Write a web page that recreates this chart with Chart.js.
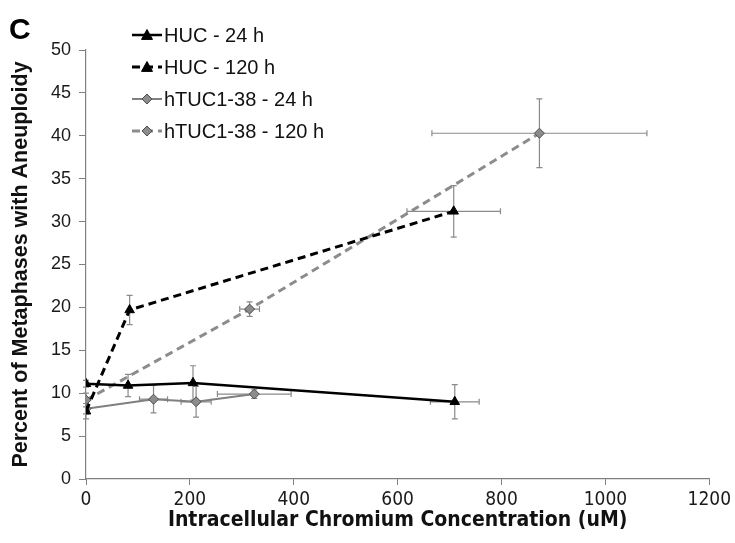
<!DOCTYPE html>
<html>
<head>
<meta charset="utf-8">
<script src="https://cdn.jsdelivr.net/npm/chart.js@4.4.1/dist/chart.umd.min.js"></script>
<style>
  html, body { margin: 0; padding: 0; background: #fff; }
</style>
</head>
<body>
<canvas id="chart" width="735" height="543"></canvas>
<script>
// series labels
const seriesLabels = ["HUC - 24 h", "HUC - 120 h", "hTUC1-38 - 24 h", "hTUC1-38 - 120 h"]

// HUC - 24 h
const hucX24 = [0, 81, 206, 710]
const hucY24 = [11.1, 10.9, 11.2, 9.0]
const hucXErr24 = [0, 0, 0, 47]
const hucYErr24 = [0.4, 1.3, 2.0, 2.0]

// HUC - 120 h
const hucX120 = [0, 84, 708]
const hucY120 = [7.9, 19.7, 31.2]
const hucXErr120 = [0, 0, 90]
const hucYErr120 = [0.9, 1.7, 3.0]

// hTUC1-38 - 24 h
const htucX24 = [0, 130, 212, 324]
const htucY24 = [8.2, 9.3, 9.0, 9.9]
const htucXErr24 = [0, 27, 29, 71]
const htucYErr24 = [0.6, 1.6, 1.8, 0.5]

// hTUC1-38 - 120 h
const htucX120 = [0, 315, 873]
const htucY120 = [9.2, 19.8, 40.3]
const htucXErr120 = [0, 19, 207]
const htucYErr120 = [0.8, 0.85, 4.0]

const xAxisMax = 1200
const yAxisMax = 50

const toPoints = (xs, ys) => xs.map((x, i) => ({ x: x, y: ys[i] }))

const errors = [
  { x: hucXErr24, y: hucYErr24 },
  { x: hucXErr120, y: hucYErr120 },
  { x: htucXErr24, y: htucYErr24 },
  { x: htucXErr120, y: htucYErr120 }
]

const FONT = "'Liberation Sans', Arial, sans-serif"
const NARROW = "'Liberation Sans Narrow', 'Arial Narrow', 'DejaVu Sans Condensed', sans-serif"

// error bars, drawn under the markers
const errorBars = {
  id: "errorBars",
  beforeDatasetsDraw(chart) {
    const { ctx, scales: { x, y } } = chart
    ctx.save()
    ctx.strokeStyle = "#8a8a8a"
    ctx.lineWidth = 1.2
    chart.data.datasets.forEach((ds, i) => {
      const err = errors[i]
      ds.data.forEach((p, j) => {
        const px = x.getPixelForValue(p.x)
        const py = y.getPixelForValue(p.y)
        const cap = 3
        if (err.y[j]) {
          const top = y.getPixelForValue(p.y + err.y[j])
          const bot = y.getPixelForValue(p.y - err.y[j])
          ctx.beginPath()
          ctx.moveTo(px, top); ctx.lineTo(px, bot)
          ctx.moveTo(px - cap, top); ctx.lineTo(px + cap, top)
          ctx.moveTo(px - cap, bot); ctx.lineTo(px + cap, bot)
          ctx.stroke()
        }
        if (err.x[j]) {
          const l = x.getPixelForValue(p.x - err.x[j])
          const r = x.getPixelForValue(p.x + err.x[j])
          ctx.beginPath()
          ctx.moveTo(l, py); ctx.lineTo(r, py)
          ctx.moveTo(l, py - cap); ctx.lineTo(l, py + cap)
          ctx.moveTo(r, py - cap); ctx.lineTo(r, py + cap)
          ctx.stroke()
        }
      })
    })
    ctx.restore()
  }
}

function drawMarker(ctx, ds, cx, cy) {
  const r = ds.pointRadius
  ctx.fillStyle = ds.pointBackgroundColor
  ctx.strokeStyle = ds.pointBorderColor
  ctx.lineWidth = ds.pointBorderWidth
  ctx.setLineDash([])
  ctx.beginPath()
  if (ds.pointStyle === "triangle") {
    ctx.moveTo(cx, cy - r)
    ctx.lineTo(cx + r, cy + r * 0.8)
    ctx.lineTo(cx - r, cy + r * 0.8)
  } else {
    ctx.moveTo(cx, cy - r)
    ctx.lineTo(cx + r, cy)
    ctx.lineTo(cx, cy + r)
    ctx.lineTo(cx - r, cy)
  }
  ctx.closePath()
  ctx.fill()
  ctx.stroke()
}

// legend inside the plot + panel letter
const panelLegend = {
  id: "panelLegend",
  afterDraw(chart) {
    const { ctx, chartArea } = chart
    ctx.save()
    ctx.fillStyle = "#000"
    ctx.font = "bold 30px " + FONT
    ctx.textBaseline = "alphabetic"
    ctx.fillText("C", 9, 39)

    const left = chartArea.left + 46
    const top = chartArea.top - 15
    chart.data.datasets.forEach((ds, i) => {
      const cy = top + i * 32
      ctx.strokeStyle = ds.borderColor
      ctx.lineWidth = ds.borderWidth
      ctx.setLineDash(ds.borderDash || [])
      ctx.beginPath()
      ctx.moveTo(left, cy)
      ctx.lineTo(left + 30, cy)
      ctx.stroke()
      drawMarker(ctx, ds, left + 15, cy)
      ctx.fillStyle = "#111"
      ctx.font = "20px " + FONT
      ctx.textBaseline = "middle"
      ctx.fillText(ds.label, left + 32, cy + 1)
    })
    ctx.restore()
  }
}

const datasets = [
  {
    label: seriesLabels[0],
    data: toPoints(hucX24, hucY24),
    borderColor: "#000",
    borderWidth: 2.5,
    pointStyle: "triangle",
    pointRadius: 5.5,
    pointBackgroundColor: "#000",
    pointBorderColor: "#000",
    pointBorderWidth: 1
  },
  {
    label: seriesLabels[1],
    data: toPoints(hucX120, hucY120),
    borderColor: "#000",
    borderWidth: 3,
    borderDash: [8, 5],
    pointStyle: "triangle",
    pointRadius: 5.5,
    pointBackgroundColor: "#000",
    pointBorderColor: "#000",
    pointBorderWidth: 1
  },
  {
    label: seriesLabels[2],
    data: toPoints(htucX24, htucY24),
    borderColor: "#808080",
    borderWidth: 2,
    pointStyle: "rectRot",
    pointRadius: 5,
    pointBackgroundColor: "#8c8c8c",
    pointBorderColor: "#4d4d4d",
    pointBorderWidth: 1
  },
  {
    label: seriesLabels[3],
    data: toPoints(htucX120, htucY120),
    borderColor: "#8c8c8c",
    borderWidth: 3,
    borderDash: [8, 5],
    pointStyle: "rectRot",
    pointRadius: 5,
    pointBackgroundColor: "#8c8c8c",
    pointBorderColor: "#4d4d4d",
    pointBorderWidth: 1
  }
]

new Chart(document.getElementById("chart"), {
  type: "scatter",
  data: { datasets: datasets.map(d => ({ ...d, showLine: true, tension: 0, pointHoverRadius: d.pointRadius })) },
  plugins: [errorBars, panelLegend],
  options: {
    responsive: false,
    animation: false,
    layout: { padding: { top: 50, right: 24, left: 0, bottom: 0 } },
    plugins: { legend: { display: false }, tooltip: { enabled: false } },
    scales: {
      x: {
        type: "linear",
        min: 0,
        max: xAxisMax,
        ticks: {
          stepSize: 200,
          color: "#1a1a1a",
          padding: 4,
          font: { family: NARROW, size: 19 },
          callback: v => String(v)
        },
        grid: { drawOnChartArea: false, drawTicks: true, tickLength: 6, color: "#808080" },
        border: { color: "#808080", width: 1.2 },
        title: {
          display: true,
          text: "Intracellular Chromium Concentration (uM)",
          color: "#111",
          font: { family: NARROW, size: 21, weight: "bold" },
          padding: { top: 0, bottom: 10 }
        },
        afterFit(scale) { scale.height = 64 }
      },
      y: {
        min: 0,
        max: yAxisMax,
        ticks: { stepSize: 5, color: "#1a1a1a", padding: 8, font: { family: FONT, size: 18 } },
        grid: { drawOnChartArea: false, drawTicks: true, tickLength: 7, color: "#808080" },
        border: { color: "#808080", width: 1.2 },
        title: {
          display: true,
          text: "Percent of Metaphases with Aneuploidy",
          color: "#111",
          font: { family: FONT, size: 21.5, weight: "bold" },
          padding: { top: 8, bottom: 4 }
        },
        afterFit(scale) { scale.width = 86 }
      }
    }
  }
})
</script>
</body>
</html>
